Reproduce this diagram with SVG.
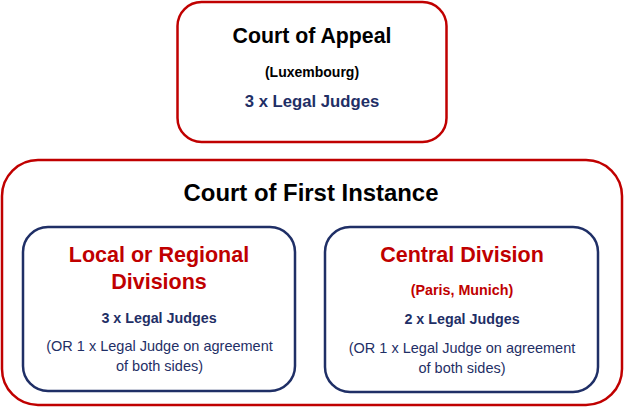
<svg xmlns="http://www.w3.org/2000/svg" width="624" height="407" viewBox="0 0 624 407">
<style>
.red{fill:#fff;stroke:#c00000;stroke-width:2.5}
.blue{fill:#fff;stroke:#1f2f66;stroke-width:2.5}
text{font-family:"Liberation Sans",Arial,sans-serif;text-anchor:middle}
.b{font-weight:bold}
.blk{fill:#000}
.rt{fill:#c00000}
.nv{fill:#1f2f66}
</style>
<rect width="624" height="407" fill="#fff"/>
<g id="court-of-appeal">
<rect class="red" x="177.5" y="2" width="269" height="140" rx="24"/>
<text class="b blk" x="312" y="43" font-size="21.3">Court of Appeal</text>
<text class="b blk" x="312" y="77" font-size="14">(Luxembourg)</text>
<text class="b nv" x="312" y="107" font-size="16.7">3 x Legal Judges</text>
</g>
<g id="court-of-first-instance">
<rect class="red" x="2" y="160" width="620" height="245" rx="36"/>
<text class="b blk" x="311" y="201" font-size="23.9">Court of First Instance</text>
</g>
<g id="local-regional">
<rect class="blue" x="23" y="227" width="272" height="164" rx="25"/>
<text class="b rt" x="159" y="262" font-size="21.5">Local or Regional</text>
<text class="b rt" x="159" y="289" font-size="21.5">Divisions</text>
<text class="b nv" x="159" y="323" font-size="14.3">3 x Legal Judges</text>
<text class="nv" x="159.5" y="351" font-size="14.5">(OR 1 x Legal Judge on agreement</text>
<text class="nv" x="159.5" y="371" font-size="14.5">of both sides)</text>
</g>
<g id="central-division">
<rect class="blue" x="325" y="227" width="273" height="165" rx="25"/>
<text class="b rt" x="462" y="262" font-size="21.5">Central Division</text>
<text class="b rt" x="462" y="295" font-size="14.3">(Paris, Munich)</text>
<text class="b nv" x="462" y="324" font-size="14.3">2 x Legal Judges</text>
<text class="nv" x="462" y="353" font-size="14.5">(OR 1 x Legal Judge on agreement</text>
<text class="nv" x="462" y="373" font-size="14.5">of both sides)</text>
</g>
<g id="connectors"></g>
</svg>
